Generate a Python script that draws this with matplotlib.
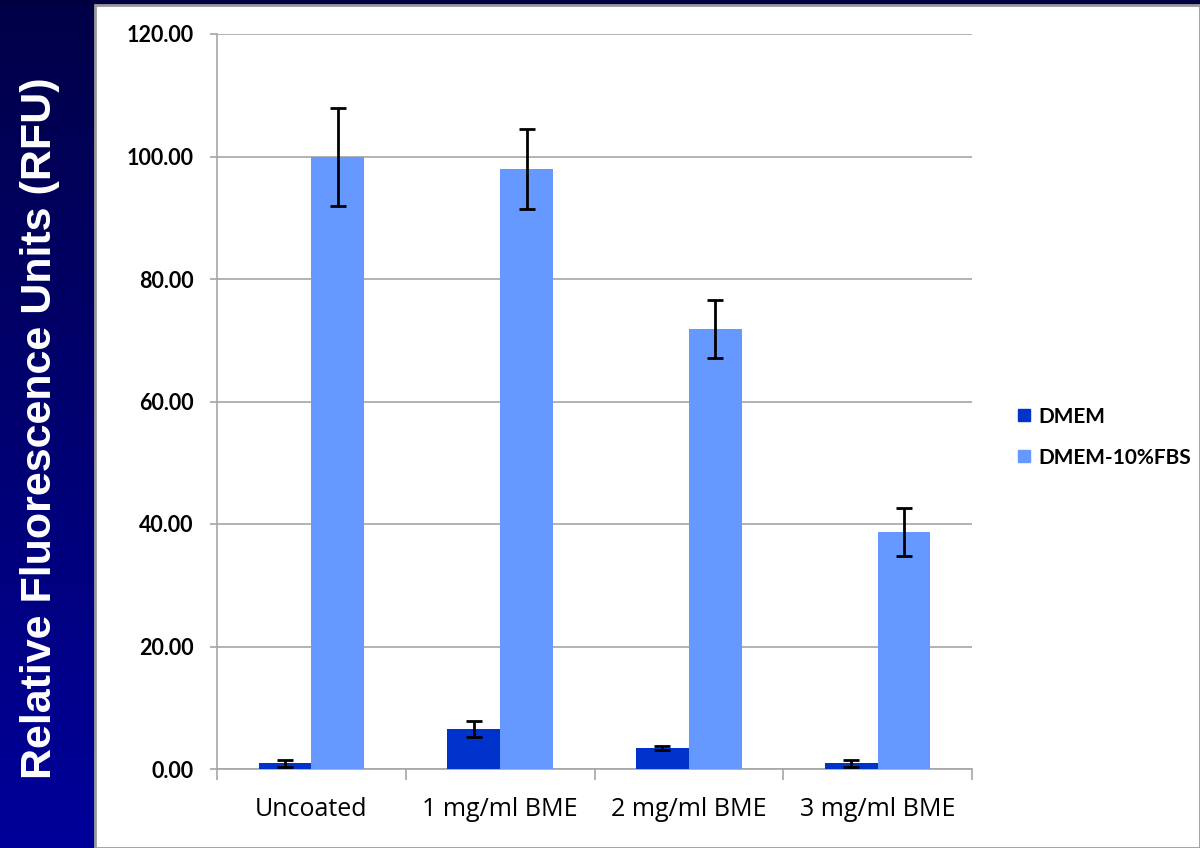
import matplotlib.pyplot as plt
import numpy as np
from matplotlib.lines import Line2D
from matplotlib.patches import Rectangle
from matplotlib.colors import LinearSegmentedColormap

categories = ["Uncoated", "1 mg/ml BME", "2 mg/ml BME", "3 mg/ml BME"]
series = ["DMEM", "DMEM-10%FBS"]
dmem = [0.9, 6.5, 3.4, 0.9]
dmem_err = [0.6, 1.3, 0.3, 0.5]
fbs = [100.0, 98.0, 71.8, 38.7]
fbs_err = [8.0, 6.5, 4.7, 3.9]
yticks = [0, 20, 40, 60, 80, 100, 120]

c_dmem = "#0033cc"
c_fbs = "#6699ff"
grid_c = "#a6a6a6"

fig = plt.figure(figsize=(12, 8.48), dpi=100)
fig.patch.set_facecolor("white")

# navy frame: top strip and left gradient panel
fig.patches.append(Rectangle((0, 1 - 5 / 848), 1, 5 / 848, transform=fig.transFigure,
                             facecolor="#000040", edgecolor="none", zorder=0))
fig.patches.append(Rectangle((95 / 1200, 0), 1 - 95 / 1200, 1 - 5 / 848, transform=fig.transFigure,
                             facecolor="none", edgecolor="#9a9a9a", linewidth=2, zorder=1))
side = fig.add_axes([0, 0, 95 / 1200, 1 - 5 / 848])
grad = np.linspace(0, 1, 256).reshape(-1, 1)
cm = LinearSegmentedColormap.from_list("navy", ["#000048", "#00009a"])
side.imshow(grad, aspect="auto", cmap=cm, extent=[0, 1, 0, 1], origin="upper")
side.set_axis_off()
fig.text(40 / 1200, 1 - 428 / 848, "Relative Fluorescence Units (RFU)", rotation=90,
         color="white", fontsize=31, fontweight="bold", family="Liberation Sans",
         ha="center", va="center")

ax = fig.add_axes([217 / 1200, 79 / 848, (972 - 217) / 1200, (769 - 34) / 848])
x = np.arange(len(categories))
w = 0.28
ekw = dict(ecolor="black", elinewidth=2, capsize=6, capthick=2)
ax.bar(x - w / 2, dmem, w, yerr=dmem_err, color=c_dmem, label=series[0], zorder=3, error_kw=ekw)
ax.bar(x + w / 2, fbs, w, yerr=fbs_err, color=c_fbs, label=series[1], zorder=3, error_kw=ekw)

ax.set_ylim(0, 120)
ax.set_xlim(-0.5, 3.5)
ax.set_yticks(yticks)
ax.set_yticklabels([f"{v:.2f}" for v in yticks], family="Lato", fontweight="bold", fontsize=15.5)
ax.yaxis.grid(True, color=grid_c, linewidth=1.2, zorder=0)
ax.tick_params(axis="y", length=5, color=grid_c, width=1.2, pad=12)
ax.set_xticks(x)
ax.set_xticklabels(categories, family="Open Sans", fontsize=18)
ax.set_xticks(np.arange(-0.5, 4, 1), minor=True)
ax.tick_params(axis="x", which="major", length=0, pad=20)
ax.tick_params(axis="x", which="minor", length=8, color=grid_c, width=1.2)
for s in ["top", "right"]:
    ax.spines[s].set_visible(False)
for s in ["left", "bottom"]:
    ax.spines[s].set_color(grid_c)
    ax.spines[s].set_linewidth(1.2)

handles = [Line2D([], [], marker="s", linestyle="none", color=c, markersize=8) for c in (c_dmem, c_fbs)]
fig.legend(handles, series, loc="upper left", bbox_to_anchor=(993 / 1200, 1 - 388 / 848),
           frameon=False, prop={"family": "Lato", "weight": "bold", "size": 15},
           handletextpad=0.1, labelspacing=1.0, handlelength=1.2)

plt.savefig("out.png", dpi=100)
